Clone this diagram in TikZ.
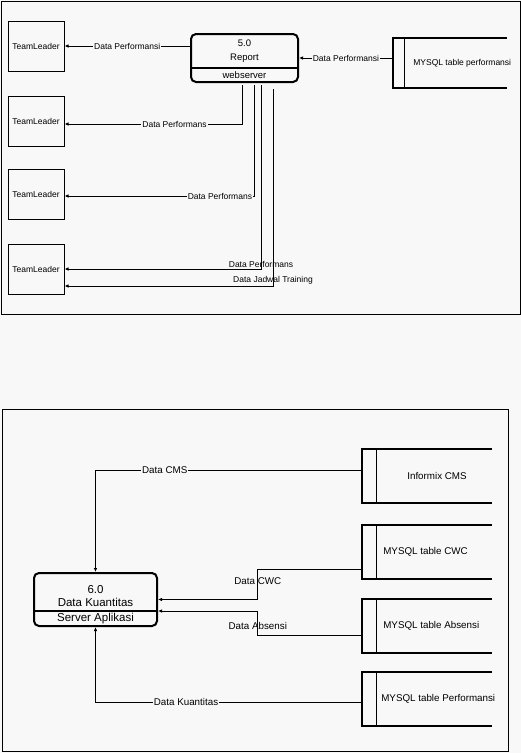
\documentclass[tikz,border=0pt]{standalone}
\usepackage{fontspec}
\setmainfont{Liberation Sans}
\usetikzlibrary{arrows.meta,positioning}
\definecolor{bg}{HTML}{F8F8F8}

\newcommand{\dstore}[2]{%
  \draw[line width=2pt] (#1.north east) -- (#1.north west) -- (#1.south west) -- (#1.south east);
  \draw[line width=1pt] ([xshift=#2]#1.north west) -- ([xshift=#2]#1.south west);}

\tikzset{
  entity/.style={draw, line width=1pt, minimum width=56pt, minimum height=50pt, inner sep=1pt, font=\fontsize{8.5}{10}\selectfont},
  proc/.style={draw, line width=2pt, rounded corners=5pt},
  flow/.style={line width=0.9pt, -{Latex[length=4pt,width=3.5pt]}},
  lbl/.style={fill=bg, inner sep=1pt, font=\fontsize{8.5}{10}\selectfont},
  lblb/.style={lbl, font=\fontsize{9.8}{11}\selectfont},
}

\begin{document}
\begin{tikzpicture}[x=1pt, y=-1pt]
\useasboundingbox (0,0) rectangle (521,753);
\fill[bg] (0,0) rectangle (521,753);
\draw[line width=1pt] (1,1) rectangle (520,314);
\draw[line width=1pt] (2,409) rectangle (508,751);

\node[entity] (tl1) at (36,46) {TeamLeader};
\node[entity] (tl2) at (36,121) {TeamLeader};
\node[entity] (tl3) at (36,194) {TeamLeader};
\node[entity] (tl4) at (36,269) {TeamLeader};

\node[proc, minimum width=107pt, minimum height=48pt] (p5) at (244.5,58) {};
\node[font=\fontsize{9.5}{14}\selectfont, align=center] (p5id) at (244.5,51) {5.0\\Report};
\node[font=\fontsize{9.5}{11}\selectfont] (p5srv) at (244.5,75.5) {webserver};
\draw[line width=2pt] ([yshift=-10pt]p5.west) -- ([yshift=-10pt]p5.east);

\node[minimum width=114pt, minimum height=50pt] (ms1) at (450,63) {};
\node[anchor=west, font=\fontsize{8.5}{10}\selectfont] (ms1txt) at ([xshift=17pt]ms1.west) {MYSQL table performansi};
\dstore{ms1}{12pt}

\coordinate (w1) at (242,85);
\coordinate (w2) at (254,85);
\coordinate (w3) at (261,85);
\coordinate (w4) at (273,89);

\draw[flow] ([yshift=5pt]ms1.west) -- (p5.east) node[lbl, midway] {Data Performansi};
\draw[flow] (p5.west |- tl1.east) -- (tl1.east) node[lbl, midway] {Data Performansi};
\draw[flow] (w1) |- ([yshift=-3pt]tl2.east) node[lbl, pos=0.69] {Data Performans};
\draw[flow] (w2) |- ([yshift=-2pt]tl3.east) node[lbl, pos=0.59] {Data Performans};
\draw[flow] (w3) |- (tl4.east) node[lbl, fill=none, above, pos=0.5] {Data Performans};
\draw[flow] (w4) |- ([yshift=-17pt]tl4.east) node[lbl, fill=none, above, pos=0.5] {Data Jadwal Training};

\node[proc, minimum width=123pt, minimum height=53pt] (p6) at (95.5,599.5) {};
\node[font=\fontsize{11.5}{13}\selectfont, align=center] (p6id) at (95.5,596) {6.0\\Data Kuantitas};
\node[font=\fontsize{11.5}{13}\selectfont] (p6srv) at (95.5,619) {Server Aplikasi};
\draw[line width=2pt] ([yshift=-11.5pt]p6.west) -- ([yshift=-11.5pt]p6.east);

\node[minimum width=130pt, minimum height=54pt] (cms) at (427,476) {};
\node[minimum width=130pt, minimum height=54pt] (cwc) at (427,552) {};
\node[minimum width=130pt, minimum height=54pt] (abs) at (427,626) {};
\node[minimum width=130pt, minimum height=54pt] (perf) at (427,699) {};
\node[font=\fontsize{9.8}{11}\selectfont] (cmstxt) at ([xshift=10pt]cms.center) {Informix CMS};
\node[anchor=west, font=\fontsize{9.8}{11}\selectfont] (cwctxt) at ([xshift=18pt]cwc.west) {MYSQL table CWC};
\node[anchor=west, font=\fontsize{9.8}{11}\selectfont] (abstxt) at ([xshift=18pt]abs.west) {MYSQL table Absensi};
\node[anchor=west, font=\fontsize{9.8}{11}\selectfont] (perftxt) at ([xshift=16pt]perf.west) {MYSQL table Performansi};
\dstore{cms}{15pt}
\dstore{cwc}{15pt}
\dstore{abs}{15pt}
\dstore{perf}{15pt}

\draw[flow] ([yshift=6pt]cms.west) -| (p6.north) node[lblb, pos=0.37] {Data CMS};
\draw[flow] ([yshift=-17pt]cwc.west) -- ++(-104,0) |- (p6.east) node[lblb, fill=none, pos=0.2] {Data CWC};
\draw[flow] ([yshift=-9pt]abs.west) -- ++(-104,0) |- ([yshift=-11.5pt]p6.east) node[lblb, fill=none, pos=0.19] {Data Absensi};
\draw[flow] ([yshift=-3pt]perf.west) -| (p6.south) node[lblb, pos=0.33] {Data Kuantitas};
\end{tikzpicture}
\end{document}
